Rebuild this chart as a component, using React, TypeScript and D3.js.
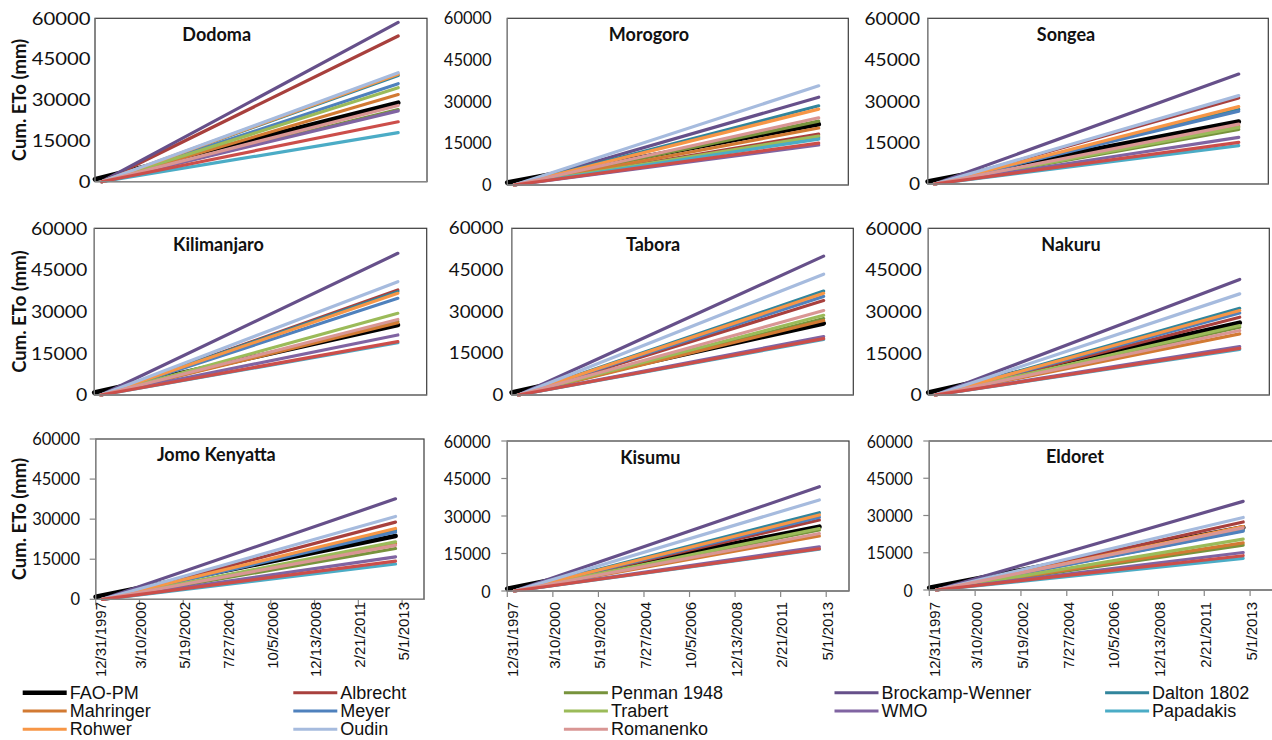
import React from "react";
import * as d3 from "d3";

// ---- series (legend order, row-major) ----
const seriesNames = [
  "FAO-PM", "Albrecht", "Penman 1948", "Brockamp-Wenner", "Dalton 1802",
  "Mahringer", "Meyer", "Trabert", "WMO", "Papadakis",
  "Rohwer", "Oudin", "Romanenko",
];
const seriesColors = [
  "#000000", "#A8403D", "#77933C", "#66508A", "#31859C",
  "#D27A33", "#4F81BD", "#9BBB59", "#8064A2", "#4BACC6",
  "#F79646", "#A6BBDE", "#D99694",
];
// A 14th (red) line is drawn in every panel but has no legend entry.
const unlabeledColor = "#CC4E4A";

const stationNames = [
  "Dodoma", "Morogoro", "Songea",
  "Kilimanjaro", "Tabora", "Nakuru",
  "Jomo Kenyatta", "Kisumu", "Eldoret",
];

// Cumulative ETo (mm) reached at the end of the record, in seriesNames order,
// followed by the unlabeled red line.
const dodomaEnd = [29000, 53500, 26500, 58500, 39000, 32000, 36000, 34500, 26000, 18000, 39500, 40000, 28000, 22000];
const morogoroEnd = [21900, 18300, 23000, 31600, 28500, 20500, 17000, 17600, 14400, 16500, 27300, 35700, 24200, 15100];
const songeaEnd = [22600, 31200, 19800, 39800, 27000, 21000, 26400, 20500, 16900, 13900, 28000, 32000, 21700, 15100];
const kilimanjaroEnd = [25200, 37800, 26500, 51000, 37200, 26000, 34800, 29400, 21600, 18800, 36600, 40800, 27200, 19200];
const taboraEnd = [25800, 34000, 27500, 50000, 37400, 26800, 35500, 28700, 21000, 20000, 36600, 43500, 30400, 20300];
const nakuruEnd = [26000, 28000, 24400, 41600, 31200, 22000, 29500, 25000, 17400, 16400, 30400, 36400, 23200, 16800];
const jomoKenyattaEnd = [23700, 28900, 19000, 37600, 26000, 20800, 25200, 21500, 15900, 13200, 26500, 31000, 20200, 14300];
const kisumuEnd = [25700, 28400, 24400, 41700, 31300, 22000, 29500, 25000, 17700, 16700, 30400, 36400, 23000, 16900];
const eldoretEnd = [25200, 27400, 18100, 35700, 24000, 19000, 23700, 20500, 15100, 12700, 25500, 29200, 25000, 13800];

const stationEnds = [
  dodomaEnd, morogoroEnd, songeaEnd,
  kilimanjaroEnd, taboraEnd, nakuruEnd,
  jomoKenyattaEnd, kisumuEnd, eldoretEnd,
];

// Start of the cumulative record: FAO-PM starts at the axis origin slightly above 0,
// the other methods a little later at 0.
const faoStartDate = "1997-12-31";
const faoStartValue = 900;
const otherStartDate = "1998-04-30";
const otherStartValue = 0;
const recordEndDate = "2012-12-31";

// axes
const axisStartDate = "1997-12-31";
const axisSpanDays = 6000;
const xTickStepDays = 800;
const yTicks = [0, 15000, 30000, 45000, 60000];
const yMax = 60000;

// ---- layout (positions / styles only) ----
const W = 1272;
const H = 740;
const panelLayout = [
  { left: 95, top: 18.3, right: 427, bottom: 181.7, titleX: 216.7, titleY: 34, labelGap: 4.5, labelScale: 1.23, lower: false },
  { left: 507.3, top: 18.3, right: 848.3, bottom: 185, titleX: 649, titleY: 34, labelGap: 15.6, labelScale: 1.0, lower: false },
  { left: 927.7, top: 18.3, right: 1268.3, bottom: 184, titleX: 1066, titleY: 34, labelGap: 7.7, labelScale: 1.16, lower: false },
  { left: 94.3, top: 228.3, right: 426.7, bottom: 395, titleX: 218.5, titleY: 244, labelGap: 7, labelScale: 1.18, lower: false },
  { left: 511.7, top: 228.3, right: 853.3, bottom: 395, titleX: 653, titleY: 244, labelGap: 8.4, labelScale: 1.14, lower: false },
  { left: 928.3, top: 228.3, right: 1269.3, bottom: 395, titleX: 1071, titleY: 244, labelGap: 6.6, labelScale: 1.18, lower: false },
  { left: 95.7, top: 439, right: 424, bottom: 599.3, titleX: 216.3, titleY: 454, labelGap: 9.7, labelScale: 1.0, lower: true },
  { left: 507.3, top: 441, right: 849, bottom: 591, titleX: 650.3, titleY: 456.5, labelGap: 10.6, labelScale: 0.98, lower: true },
  { left: 929.3, top: 441, right: 1273, bottom: 590, titleX: 1075, titleY: 456, labelGap: 10.6, labelScale: 0.96, lower: true },
];
const xLabelTop = 602;
const tickLen = 6;
const legendLeft = 22.7;
const legendColStep = 270.6;
const legendTop = 692.7;
const legendRowStep = 18.3;
const legendSampleLen = 44;
const legendCols = 5;

const parseDate = (s: string) => {
  const [y, m, d] = s.split("-").map(Number);
  return new Date(Date.UTC(y, m - 1, d));
};
const fmtDate = d3.utcFormat("%-m/%-d/%Y");

const tickFont = "Lato, 'Open Sans', sans-serif";
const arialFont = "'Liberation Sans', Arial, sans-serif";

function Panel({ idx }: { idx: number }) {
  const L = panelLayout[idx];
  const axisStart = parseDate(axisStartDate);
  const axisEnd = d3.utcDay.offset(axisStart, axisSpanDays);
  const x = d3.scaleUtc().domain([axisStart, axisEnd]).range([L.left, L.right]);
  const y = d3.scaleLinear().domain([0, yMax]).range([L.bottom, L.top]);
  const line = d3
    .line<[Date, number]>()
    .x((d) => x(d[0]))
    .y((d) => y(d[1]));

  const ends = stationEnds[idx];
  const endDate = parseDate(recordEndDate);
  const seriesPts = ends.map((v, i) => {
    const isFao = i === 0;
    const pts: [Date, number][] = [
      [parseDate(isFao ? faoStartDate : otherStartDate), isFao ? faoStartValue : otherStartValue],
      [endDate, v],
    ];
    return pts;
  });
  const colorOf = (i: number) => (i < seriesColors.length ? seriesColors[i] : unlabeledColor);

  const xTicks = d3.range(0, axisSpanDays, xTickStepDays).map((n) => d3.utcDay.offset(axisStart, n));

  return (
    <g>
      {/* plot area border */}
      <rect
        x={L.left}
        y={L.top}
        width={L.right - L.left}
        height={L.bottom - L.top}
        fill="#fff"
        stroke="#3a3a3a"
        strokeWidth={1.2}
      />
      {/* lines */}
      {seriesPts.map((pts, i) => (
        <path
          key={i}
          d={line(pts) || ""}
          fill="none"
          stroke={colorOf(i)}
          strokeWidth={i === 0 ? 4.8 : 3.2}
          strokeLinecap="round"
          strokeLinejoin="round"
        />
      ))}
      {/* axes */}
      <line x1={L.left} x2={L.left} y1={L.top} y2={L.bottom} stroke="#868686" strokeWidth={1.3} />
      <line x1={L.left} x2={L.right} y1={L.bottom} y2={L.bottom} stroke="#868686" strokeWidth={1.3} />
      {/* y ticks */}
      {yTicks.map((t) => (
        <g key={t}>
          {L.lower && (
            <line x1={L.left - tickLen} x2={L.left} y1={y(t)} y2={y(t)} stroke="#868686" strokeWidth={1.2} />
          )}
          <text
            transform={`translate(${L.left - L.labelGap - (L.lower ? tickLen : 0)},${y(t)}) scale(${L.labelScale},1)`}
            textAnchor="end"
            dominantBaseline="central"
            fontFamily={tickFont}
            fontSize={16.5}
            fill="#111"
          >
            {t}
          </text>
        </g>
      ))}
      {/* x ticks (bottom row only) */}
      {L.lower &&
        xTicks.map((d, k) => (
          <g key={k}>
            <line x1={x(d)} x2={x(d)} y1={L.bottom} y2={L.bottom + tickLen} stroke="#868686" strokeWidth={1.2} />
            <text
              transform={`translate(${x(d) + (k === 0 ? 5 : 1.5)},${xLabelTop}) rotate(-90)`}
              textAnchor="end"
              dy="0.35em"
              fontFamily={arialFont}
              fontSize={15}
              fill="#111"
            >
              {fmtDate(d)}
            </text>
          </g>
        ))}
      {/* title */}
      <text
        x={L.titleX}
        y={L.titleY}
        textAnchor="middle"
        dominantBaseline="central"
        fontFamily={tickFont}
        fontWeight="bold"
        fontSize={18}
        fill="#111"
      >
        {stationNames[idx]}
      </text>
      {/* y axis title (left column) */}
      {idx % 3 === 0 && (
        <text
          transform={`translate(19,${(L.top + L.bottom) / 2}) rotate(-90)`}
          textAnchor="middle"
          dominantBaseline="central"
          fontFamily={tickFont}
          fontWeight="bold"
          fontSize={18.5}
          fill="#111"
        >
          Cum. ETo (mm)
        </text>
      )}
    </g>
  );
}

function Legend() {
  return (
    <g>
      {seriesNames.map((name, i) => {
        const col = i % legendCols;
        const row = Math.floor(i / legendCols);
        const lx = legendLeft + col * legendColStep;
        const ly = legendTop + row * legendRowStep;
        return (
          <g key={name}>
            <line
              x1={lx}
              x2={lx + legendSampleLen}
              y1={ly}
              y2={ly}
              stroke={seriesColors[i]}
              strokeWidth={i === 0 ? 4.5 : 3}
            />
            <text
              x={lx + legendSampleLen + 3}
              y={ly}
              dominantBaseline="central"
              fontFamily={arialFont}
              fontSize={18}
              fill="#111"
            >
              {name}
            </text>
          </g>
        );
      })}
    </g>
  );
}

export default function App() {
  return (
    <svg
      width={W}
      height={H}
      viewBox={`0 0 ${W} ${H}`}
      style={{ position: "absolute", left: 0, top: 0, background: "#fff" }}
    >
      <rect x={0} y={0} width={W} height={H} fill="#fff" />
      {panelLayout.map((_, i) => (
        <Panel key={i} idx={i} />
      ))}
      <Legend />
    </svg>
  );
}
